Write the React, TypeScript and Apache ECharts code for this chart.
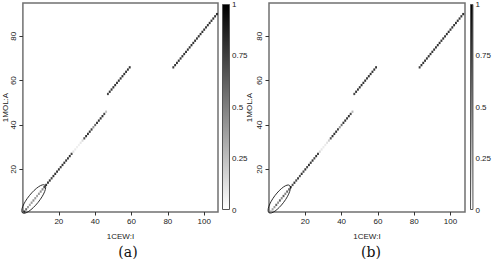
import React, { useEffect, useRef } from "react";
import * as echarts from "echarts";

const xTicks = [20, 40, 60, 80, 100];
const yTicks = [20, 40, 60, 80];

const seg1X = [1, 2, 3, 4, 5, 6, 7, 8, 9, 10, 11, 12, 13, 14, 15, 16, 17, 18, 19, 20, 21, 22, 23, 24, 25, 26, 27, 28, 29, 30, 31, 32, 33, 34, 35, 36, 37, 38, 39, 40, 41, 42, 43, 44, 45, 46];
const seg1Y = [1, 2, 3, 4, 5, 6, 7, 8, 9, 10, 11, 12, 13, 14, 15, 16, 17, 18, 19, 20, 21, 22, 23, 24, 25, 26, 27, 28, 29, 30, 31, 32, 33, 34, 35, 36, 37, 38, 39, 40, 41, 42, 43, 44, 45, 46];
const seg2X = [47, 48, 49, 50, 51, 52, 53, 54, 55, 56, 57, 58, 59];
const seg2Y = [54, 55, 56, 57, 58, 59, 60, 61, 62, 63, 64, 65, 66];
const seg3X = [83, 84, 85, 86, 87, 88, 89, 90, 91, 92, 93, 94, 95, 96, 97, 98, 99, 100, 101, 102, 103, 104, 105, 106, 107];
const seg3Y = [66, 67, 68, 69, 70, 71, 72, 73, 74, 75, 76, 77, 78, 79, 80, 81, 82, 83, 84, 85, 86, 87, 88, 89, 90];

const valsA1 = [0.95, 0.75, 0.5, 0.45, 0.5, 0.55, 0.5, 0.45, 0.5, 0.55, 0.6, 0.9, 1, 1, 1, 0.95, 1, 1, 1, 1, 0.95, 1, 1, 1, 1, 1, 0.9, 0.15, 0.1, 0.08, 0.08, 0.12, 0.2, 0.85, 1, 1, 1, 0.95, 0.55, 0.75, 1, 1, 1, 1, 0.9, 0.3];
const valsB1 = [0.4, 0.45, 0.5, 0.75, 0.55, 0.8, 0.6, 0.8, 0.6, 0.75, 0.7, 1, 0.85, 1, 0.9, 1, 0.85, 1, 0.9, 1, 0.9, 1, 0.95, 1, 0.9, 1, 0.95, 0.2, 0.12, 0.1, 0.1, 0.15, 0.25, 0.85, 1, 1, 1, 0.95, 0.5, 0.7, 1, 1, 1, 1, 0.9, 0.35];
const vals2 = [0.9, 1, 1, 1, 1, 1, 1, 1, 1, 1, 1, 1, 1];
const vals3 = [0.95, 1, 1, 1, 1, 1, 1, 1, 1, 1, 1, 1, 1, 1, 1, 1, 1, 1, 1, 1, 1, 1, 1, 1, 1];

// ellipse annotation: major-axis endpoints in data units, semi-minor in px
const ellipseA = { x1: 0, y1: 0.4, x2: 12.3, y2: 12.9, ry: 5.5 };
const ellipseB = { x1: 0, y1: 0.5, x2: 11.3, y2: 12.8, ry: 5.5 };

const FONT = "'Liberation Sans', Arial, sans-serif";

function build(xs: number[], ys: number[], vs: number[]) {
  return xs.map((x, i) => [x, ys[i], vs[i]]);
}

const dataA = [...build(seg1X, seg1Y, valsA1), ...build(seg2X, seg2Y, vals2), ...build(seg3X, seg3Y, vals3)];
const dataB = [...build(seg1X, seg1Y, valsB1), ...build(seg2X, seg2Y, vals2), ...build(seg3X, seg3Y, vals3)];

function mainX(gi: number, min: number, max: number) {
  return {
    gridIndex: gi,
    type: "value",
    min,
    max,
    axisLine: { show: false },
    splitLine: { show: false },
    axisTick: { show: true, customValues: xTicks, length: 3.5, lineStyle: { color: "#333", width: 1 } },
    axisLabel: { customValues: xTicks, margin: 5, fontSize: 8, color: "#222", fontFamily: FONT },
    name: "1CEW:I",
    nameLocation: "middle",
    nameGap: 20,
    nameTextStyle: { fontSize: 8, color: "#222", fontFamily: FONT },
  };
}

function mainY(gi: number, gap: number, margin: number) {
  return {
    gridIndex: gi,
    type: "value",
    min: 0.8,
    max: 95,
    axisLine: { show: false },
    splitLine: { show: false },
    axisTick: { show: true, customValues: yTicks, length: 3.5, lineStyle: { color: "#333", width: 1 } },
    axisLabel: { customValues: yTicks, rotate: 90, margin, fontSize: 8, color: "#222", fontFamily: FONT },
    name: "1MOL:A",
    nameLocation: "middle",
    nameGap: gap,
    nameTextStyle: { fontSize: 8, color: "#222", fontFamily: FONT },
  };
}

function barY(gi: number) {
  return {
    gridIndex: gi,
    type: "value",
    min: 0,
    max: 1,
    interval: 0.25,
    position: "right",
    axisLine: { show: false },
    axisTick: { show: false },
    splitLine: { show: false },
    axisLabel: { margin: 2, fontSize: 8, color: "#222", fontFamily: FONT },
  };
}

const gradient = new echarts.graphic.LinearGradient(0, 0, 0, 1, [
  { offset: 0, color: "#000000" },
  { offset: 1, color: "#ffffff" },
]);

export default function App() {
  const ref = useRef<HTMLDivElement>(null);
  useEffect(() => {
    document.body.style.margin = "0";
    if (!ref.current) return;
    const chart = echarts.init(ref.current, null, { renderer: "svg" });
    const gridBorder = { show: true, borderColor: "#707070", borderWidth: 1.5, backgroundColor: "transparent" };
    chart.setOption({
      animation: false,
      grid: [
        { left: 21, top: 3, width: 197, height: 209, ...gridBorder },
        { left: 222, top: 3, width: 8, height: 207 },
        { left: 269, top: 3, width: 196, height: 209, ...gridBorder },
        { left: 470, top: 3, width: 7, height: 207 },
      ],
      xAxis: [
        mainX(0, 0.2, 107.6),
        { gridIndex: 1, type: "category", data: ["c"], show: false },
        mainX(2, 0, 108),
        { gridIndex: 3, type: "category", data: ["c"], show: false },
      ],
      yAxis: [mainY(0, 13, 5), barY(1), mainY(2, 16, 6), barY(3)],
      visualMap: {
        type: "continuous",
        show: false,
        min: 0,
        max: 1,
        dimension: 2,
        seriesIndex: [0, 2],
        inRange: { color: ["#ffffff", "#000000"] },
      },
      series: [
        { type: "scatter", xAxisIndex: 0, yAxisIndex: 0, data: dataA, symbol: "rect", symbolSize: [1.9, 2.3] },
        {
          type: "bar", xAxisIndex: 1, yAxisIndex: 1, data: [1], barWidth: "100%", silent: true,
          itemStyle: { color: gradient, borderColor: "#555", borderWidth: 1 },
        },
        { type: "scatter", xAxisIndex: 2, yAxisIndex: 2, data: dataB, symbol: "rect", symbolSize: [1.9, 2.3] },
        {
          type: "bar", xAxisIndex: 3, yAxisIndex: 3, data: [1], barWidth: "100%", silent: true,
          itemStyle: { color: gradient, borderColor: "#555", borderWidth: 1 },
        },
      ],
    });

    const ell = (gi: number, e: typeof ellipseA) => {
      const p1 = chart.convertToPixel({ gridIndex: gi }, [e.x1, e.y1]) as number[];
      const p2 = chart.convertToPixel({ gridIndex: gi }, [e.x2, e.y2]) as number[];
      const cx = (p1[0] + p2[0]) / 2;
      const cy = (p1[1] + p2[1]) / 2;
      const dx = p2[0] - p1[0];
      const dy = p2[1] - p1[1];
      const rx = Math.sqrt(dx * dx + dy * dy) / 2;
      const rot = Math.atan2(-dy, dx);
      return {
        type: "ellipse",
        x: cx,
        y: cy,
        rotation: rot,
        shape: { cx: 0, cy: 0, rx, ry: e.ry },
        style: { fill: "none", stroke: "#111", lineWidth: 0.8 },
        z: 10,
      };
    };

    chart.setOption({
      graphic: [
        ell(0, ellipseA),
        ell(2, ellipseB),
        {
          type: "text", x: 128, y: 252,
          style: { text: "(a)", align: "center", verticalAlign: "middle", fontSize: 14, fontFamily: "'DejaVu Serif', serif", fill: "#111" },
        },
        {
          type: "text", x: 371, y: 252,
          style: { text: "(b)", align: "center", verticalAlign: "middle", fontSize: 14, fontFamily: "'DejaVu Serif', serif", fill: "#111" },
        },
      ],
    });

    return () => chart.dispose();
  }, []);
  return <div ref={ref} style={{ width: 494, height: 259 }} />;
}
